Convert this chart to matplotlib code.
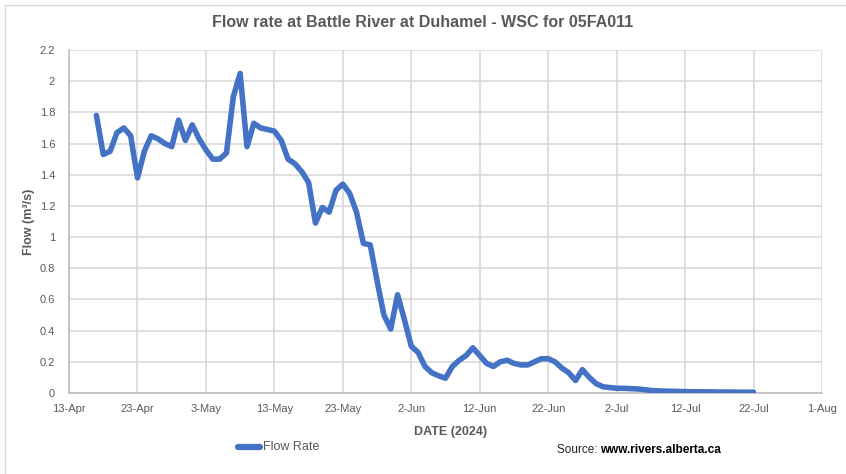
import matplotlib
matplotlib.use("Agg")
import matplotlib.pyplot as plt
import pandas as pd
from matplotlib.lines import Line2D

# daily flow (m3/s), starting 17 Apr 2024
start_date = "2024-04-17"
flow = [
    1.78, 1.53, 1.55, 1.67, 1.70, 1.65, 1.38, 1.55, 1.65, 1.63,   # Apr 17-26
    1.60, 1.58, 1.75, 1.62, 1.72, 1.63, 1.56, 1.50, 1.50, 1.54,   # Apr 27-May 6
    1.90, 2.05, 1.58, 1.73, 1.70, 1.69, 1.68, 1.62, 1.50, 1.47,   # May 7-16
    1.42, 1.35, 1.09, 1.19, 1.16, 1.30, 1.34, 1.28, 1.16, 0.96,   # May 17-26
    0.95, 0.72, 0.50, 0.41, 0.63, 0.47, 0.30, 0.26, 0.17, 0.13,   # May 27-Jun 5
    0.11, 0.095, 0.17, 0.21, 0.24, 0.29, 0.24, 0.19, 0.17, 0.20,  # Jun 6-15
    0.21, 0.19, 0.18, 0.18, 0.20, 0.22, 0.22, 0.20, 0.16, 0.13,   # Jun 16-25
    0.08, 0.15, 0.10, 0.06, 0.04, 0.035, 0.03, 0.03, 0.028, 0.026,  # Jun 26-Jul 5
    0.022, 0.016, 0.014, 0.012, 0.011, 0.010, 0.009, 0.008, 0.008, 0.007,  # Jul 6-15
    0.007, 0.006, 0.006, 0.006, 0.005, 0.005, 0.005,  # Jul 16-22
]
dates = pd.date_range(start_date, periods=len(flow), freq="D")

x_ticks = pd.date_range("2024-04-13", "2024-08-01", freq="10D")
y_ticks = [0, 0.2, 0.4, 0.6, 0.8, 1, 1.2, 1.4, 1.6, 1.8, 2, 2.2]

title = "Flow rate at Battle River at Duhamel - WSC for 05FA011"
blue = "#4472C4"
grey_text = "#595959"

plt.rcParams["font.family"] = ["Liberation Sans", "DejaVu Sans"]

fig = plt.figure(figsize=(8.46, 4.74), dpi=100)
ax = fig.add_axes([0.0816, 0.1709, 0.890, 0.7236])

ax.plot(dates, flow, color=blue, lw=4, solid_joinstyle="round",
        solid_capstyle="round", zorder=3)

ax.set_xlim(x_ticks[0], x_ticks[-1])
ax.set_ylim(0, 2.2)
ax.set_xticks(x_ticks)
ax.set_xticklabels([f"{d.day}-{d.strftime('%b')}" for d in x_ticks])
ax.set_yticks(y_ticks)
ax.set_yticklabels([f"{v:g}" for v in y_ticks])

for lab in ax.get_xticklabels() + ax.get_yticklabels():
    lab.set_fontsize(8)
    lab.set_color(grey_text)
ax.tick_params(length=0, pad=8)
ax.tick_params(axis="y", pad=10)

ax.grid(True, color="#d9d9d9", lw=1.2)
ax.set_axisbelow(True)
for side in ["top", "right"]:
    ax.spines[side].set_visible(False)
for side in ["left", "bottom"]:
    ax.spines[side].set_color("#bfbfbf")
    ax.spines[side].set_linewidth(1.2)

ax.set_ylabel("Flow (m³/s)", fontsize=9, fontweight="bold",
              color=grey_text)
ax.yaxis.set_label_coords(-0.045, 0.5)

fig.text(0.5, 0.953, title, ha="center", va="center", fontsize=11.5,
         fontweight="bold", color=grey_text)
fig.text(0.532, 0.088, "DATE (2024)", ha="center", va="center",
         fontsize=9, fontweight="bold", color=grey_text)

# legend entry
fig.add_artist(Line2D([0.281, 0.307], [0.057, 0.057], color=blue, lw=4.5,
                      solid_capstyle="round"))
fig.text(0.311, 0.057, "Flow Rate", ha="left", va="center", fontsize=9,
         color=grey_text)

src = fig.text(0.658, 0.050, "Source: ", ha="left", va="center",
               fontsize=8.5, color="#222222")
fig.canvas.draw()
bb = src.get_window_extent().transformed(fig.transFigure.inverted())
fig.text(bb.x1, 0.050, "www.rivers.alberta.ca", ha="left", va="center",
         fontsize=8.5, fontweight="bold", color="black")

# outer chart frame
fig.add_artist(Line2D([0.006, 1.0], [0.989, 0.989], color="#d9d9d9", lw=1))
fig.add_artist(Line2D([0.006, 0.006], [0.0, 0.989], color="#d9d9d9", lw=1))

fig.savefig("out.png", dpi=100)
